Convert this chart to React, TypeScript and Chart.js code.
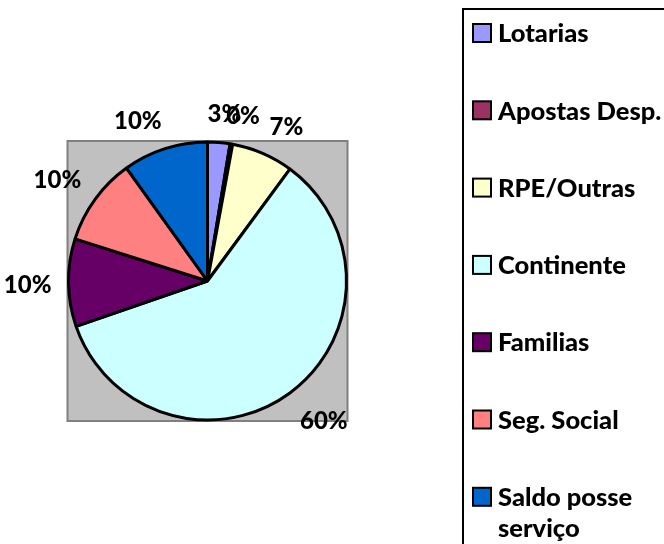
import React, { useEffect, useRef } from "react";
import { Chart, registerables } from "chart.js";

Chart.register(...registerables);

const categories = ["Lotarias", "Apostas Desp.", "RPE/Outras", "Continente", "Familias", "Seg. Social", "Saldo posse serviço"];
const values = [2.6, 0.3, 7.2, 59.6, 10.2, 10.2, 9.9];
const colors = ["#9999FF", "#993366", "#FFFFCC", "#CCFFFF", "#660066", "#FF8080", "#0066CC"];

const FONT = "Lato, 'Liberation Sans', sans-serif";

function wrap(ctx: CanvasRenderingContext2D, text: string, maxW: number): string[] {
  const words = text.split(" ");
  const lines: string[] = [];
  let cur = "";
  for (const w of words) {
    const t = cur ? cur + " " + w : w;
    if (ctx.measureText(t).width > maxW && cur) {
      lines.push(cur);
      cur = w;
    } else cur = t;
  }
  if (cur) lines.push(cur);
  return lines;
}

const clamp = (v: number) => Math.max(-1, Math.min(1, v));

const decorPlugin = {
  id: "decor",
  beforeDraw(chart: any) {
    const { ctx } = chart;
    const meta = chart.getDatasetMeta(0);
    const arc = meta.data[0];
    const cx = arc.x, cy = arc.y, r = arc.outerRadius;
    ctx.save();
    // plot area
    ctx.fillStyle = "#C0C0C0";
    ctx.fillRect(cx - r - 1, cy - r - 1, 2 * r + 2, 2 * r + 2);
    ctx.strokeStyle = "#808080";
    ctx.lineWidth = 2;
    ctx.strokeRect(cx - r - 1, cy - r - 1, 2 * r + 2, 2 * r + 2);
    // legend box
    const lx = 463, ly = 9;
    ctx.strokeStyle = "#000";
    ctx.lineWidth = 2;
    ctx.strokeRect(lx, ly, 400, 600);
    ctx.font = `900 25.5px ${FONT}`;
    ctx.textBaseline = "middle";
    const labels = chart.data.labels as string[];
    const bg = chart.data.datasets[0].backgroundColor as string[];
    const step = 77.3;
    labels.forEach((lab, i) => {
      const yc = 33 + i * step;
      ctx.fillStyle = bg[i];
      ctx.fillRect(473, yc - 9, 18, 18);
      ctx.strokeStyle = "#000";
      ctx.lineWidth = 2;
      ctx.strokeRect(473, yc - 9, 18, 18);
      ctx.fillStyle = "#000";
      ctx.textAlign = "left";
      const lines = wrap(ctx, lab, 185);
      lines.forEach((ln, j) => ctx.fillText(ln, 498, yc + 1 + j * 31));
    });
    ctx.restore();
  },
  afterDraw(chart: any) {
    const { ctx } = chart;
    const meta = chart.getDatasetMeta(0);
    const data = chart.data.datasets[0].data as number[];
    const total = data.reduce((a, b) => a + b, 0);
    ctx.save();
    ctx.font = `900 24px ${FONT}`;
    ctx.fillStyle = "#000";
    ctx.textAlign = "center";
    ctx.textBaseline = "middle";
    meta.data.forEach((a: any, i: number) => {
      const mid = (a.startAngle + a.endAngle) / 2;
      const dx = Math.cos(mid), dy = Math.sin(mid);
      const txt = Math.round((data[i] / total) * 100) + "%";
      const w = ctx.measureText(txt).width;
      const h = 26;
      const d = a.outerRadius + 17;
      const x = a.x + dx * d + clamp(dx * 3) * w / 2;
      const y = a.y + dy * d + clamp(dy * 1.5) * h / 2;
      ctx.fillText(txt, x, y + 2);
    });
    ctx.restore();
  },
};

export default function App() {
  const ref = useRef<HTMLCanvasElement>(null);
  useEffect(() => {
    if (!ref.current) return;
    const chart = new Chart(ref.current, {
      type: "pie",
      data: {
        labels: categories,
        datasets: [
          {
            data: values,
            backgroundColor: colors,
            borderColor: "#000",
            borderWidth: 3,
          },
        ],
      },
      options: {
        responsive: false,
        animation: false,
        layout: { padding: { left: 67, right: 316, top: 140, bottom: 122 } },
        plugins: { legend: { display: false }, tooltip: { enabled: false } },
      },
      plugins: [decorPlugin],
    });
    return () => chart.destroy();
  }, []);
  return (
    <div style={{ position: "absolute", left: 0, top: 0, width: 664, height: 544, background: "#fff" }}>
      <canvas ref={ref} width={664} height={544} style={{ width: 664, height: 544 }} />
    </div>
  );
}
